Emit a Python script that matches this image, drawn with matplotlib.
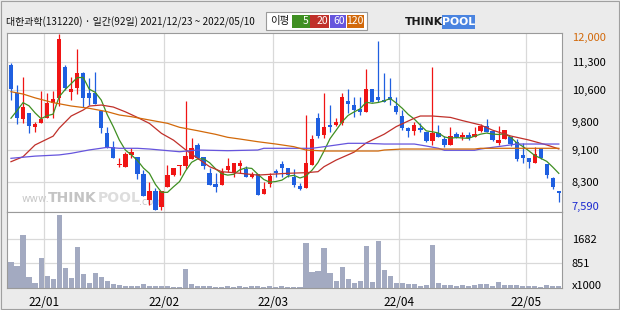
import matplotlib
matplotlib.use('Agg')
import matplotlib.pyplot as plt
import numpy as np
import pandas as pd
from matplotlib.patches import Rectangle

plt.rcParams['font.family'] = ['Noto Sans CJK KR', 'DejaVu Sans']

# ---------------- data ----------------
title_text = "대한과학(131220) · 일간(92일) 2021/12/23 ~ 2022/05/10"

opens = [11220, 10530, 9860, 10020, 9680, 9780, 9900, 10260, 10400, 11180,
         10550, 10650, 11020, 10530, 10530, 10070, 9510, 9180, 8710, 8670,
         8970, 8930, 8490, 7840, 8070, 7670, 8170, 8470, 8690, 8700,
         8870, 9220, 8930, 8520, 8240, 8220, 8590, 8520, 8690, 8610,
         8420, 8490, 7990, 8240, 8570, 8740, 8650, 8420, 8190, 8150,
         8720, 9890, 9470, 9720, 9720, 9760, 10320, 10220, 10120, 10050,
         10620, 10430, 10350, 10430, 10200, 9950, 9650, 9580, 9650, 9550,
         9330, 9510, 9370, 9220, 9490, 9410, 9470, 9410, 9580, 9690,
         9570, 9260, 9360, 9410, 9290, 8970, 8890, 8770, 9140, 8740,
         8380, 8070]
highs = [11270, 10720, 10930, 10020, 9800, 10570, 10510, 10570, 12000, 11230,
         10930, 11620, 11060, 10900, 11060, 10070, 9680, 9320, 8900, 9040,
         9150, 8930, 8590, 8300, 8130, 8070, 8720, 8650, 8720, 10320,
         9390, 9260, 8930, 8630, 8510, 8630, 8890, 8780, 8840, 8690,
         8550, 8490, 8300, 8510, 8610, 8820, 8650, 8610, 8260, 9970,
         9470, 10010, 10510, 10220, 9900, 10510, 10620, 10430, 10430, 11120,
         10620, 11820, 11020, 10890, 10430, 10100, 9680, 9800, 9760, 9550,
         11170, 9720, 9440, 9680, 9550, 9550, 9550, 9680, 9750, 9860,
         9570, 9690, 9590, 9430, 9360, 9260, 8890, 9160, 9140, 8740,
         8410, 8070]
lows = [10350, 9740, 9760, 9510, 9550, 9780, 9900, 9900, 10200, 10600,
        10350, 10490, 10180, 10220, 10250, 9510, 9140, 8900, 8670, 8660,
        8890, 8370, 7950, 7710, 7590, 7600, 8170, 8450, 8470, 8620,
        8870, 8860, 8620, 8220, 8050, 8220, 8550, 8420, 8510, 8420,
        8380, 7970, 7990, 8160, 8420, 8420, 8420, 8160, 8090, 8150,
        8720, 9390, 9390, 9550, 9700, 9720, 10010, 9920, 9970, 10050,
        10300, 10300, 10300, 10220, 10000, 9590, 9410, 9470, 9550, 9300,
        9220, 9430, 9180, 9220, 9390, 9340, 9340, 9410, 9550, 9550,
        9320, 9220, 9360, 9190, 8820, 8770, 8630, 8770, 8860, 8380,
        8110, 7800]
closes = [10610, 9900, 10170, 9700, 9740, 9880, 10270, 10370, 11870, 10650,
          10620, 11020, 10400, 10400, 10250, 9650, 9180, 8900, 8740, 8990,
          9040, 8490, 7950, 8070, 7600, 8070, 8470, 8650, 8720, 8940,
          9140, 8890, 8680, 8220, 8170, 8550, 8700, 8780, 8780, 8420,
          8480, 7970, 8120, 8440, 8510, 8650, 8470, 8220, 8110, 8760,
          9370, 9440, 9660, 9660, 9800, 10430, 10250, 10100, 10050, 10620,
          10300, 10350, 10300, 10350, 10050, 9640, 9580, 9720, 9590, 9330,
          9530, 9430, 9220, 9440, 9410, 9470, 9390, 9490, 9690, 9550,
          9340, 9340, 9590, 9240, 8860, 8890, 8800, 8990, 8890, 8470,
          8170, 8020]
volumes = [900, 760, 1808, 389, 186, 1031, 423, 321, 2484, 693,
           355, 1403, 490, 186, 524, 389, 231, 152, 118, 85,
           85, 85, 152, 85, 85, 85, 85, 51, 51, 659,
           152, 85, 85, 85, 51, 51, 85, 51, 85, 51,
           85, 85, 51, 85, 51, 85, 51, 51, 51, 1538,
           558, 592, 1369, 524, 254, 727, 321, 186, 254, 1437,
           220, 1606, 625, 423, 186, 186, 152, 152, 85, 118,
           1470, 186, 118, 118, 85, 118, 85, 118, 152, 152,
           85, 220, 118, 118, 118, 85, 85, 85, 51, 118,
           85, 85]
# closes of the four sessions before the window (estimated, for the 5-day average)
prior_closes = [8950, 9170, 10100, 10620]

ma20_days = [0, 2, 4, 7, 8, 10, 12, 13, 15, 17, 19, 21, 23, 25, 27, 29, 31, 33, 35, 37,
             41, 46, 49, 51, 52, 54, 57, 59, 62, 64, 67, 68, 70, 73, 75, 78, 80, 83, 86, 89, 91]
ma20_vals = [8800, 8925, 9220, 9440, 9640, 9945, 10095, 10195, 10220, 10170, 10050, 9910,
             9760, 9510, 9340, 9100, 8885, 8675, 8550, 8525, 8465, 8510, 8525, 8550, 8675,
             8840, 9040, 9270, 9490, 9680, 9890, 9945, 9945, 9910, 9830, 9720, 9590, 9445,
             9345, 9220, 9120]
ma60_days = [0, 4, 8, 10, 13, 16, 18, 21, 23, 28, 31, 36, 41, 42, 50, 52, 54, 56, 59, 62,
             67, 69, 71, 72, 77, 78, 80, 82, 84, 91]
ma60_vals = [8885, 8940, 8970, 9010, 9095, 9160, 9136, 9136, 9118, 9050, 9093, 9076, 9093,
             9136, 9136, 9176, 9218, 9261, 9261, 9243, 9243, 9193, 9136, 9086, 9086, 9118,
             9160, 9200, 9243, 9243]
ma120_days = [0, 2, 4, 7, 10, 13, 16, 18, 20, 23, 26, 28, 31, 34, 36, 38, 41, 44, 47, 49,
              52, 61, 62, 65, 77, 78, 91]
ma120_vals = [10554, 10496, 10400, 10280, 10196, 10138, 10053, 9970, 9928, 9845, 9762, 9662,
              9577, 9486, 9411, 9369, 9301, 9243, 9176, 9093, 9068, 9068, 9093, 9118, 9118,
              9136, 9136]

ma_names = ['5', '20', '60', '120']
ma_colors = ['#3f8f22', '#c0302a', '#6655dd', '#d2690a']

month_labels = ['22/01', '22/02', '22/03', '22/04', '22/05']
month_start_idx = [6, 26, 44, 65, 86]
price_ticks = [11300, 10600, 9800, 9100, 8300]
price_tick_labels = ['11,300', '10,600', '9,800', '9,100', '8,300']
vol_ticks = [1682, 851]
vol_tick_labels = ['1682', '851']
vol_unit = 'x1000'

UP = '#f01414'
DOWN = '#1f5fe0'
VOLC = '#a3aac1'
GRID = '#d9d9d9'
FRAME = '#9a9a9a'

# ---------------- figure ----------------
W, H = 620, 310
fig = plt.figure(figsize=(6.2, 3.1), dpi=100, facecolor='#ebebeb')


def fx(px):
    return px / W


def fy(py):
    return 1 - py / H


axp = fig.add_axes([fx(7), fy(212), fx(555), 179 / H])
axv = fig.add_axes([fx(7), fy(288), fx(555), 76 / H])

n = len(closes)
x = np.arange(n)
o = np.array(opens, float)
h = np.array(highs, float)
l = np.array(lows, float)
c = np.array(closes, float)
up = c >= o
cols = np.where(up, UP, DOWN)

pmax, pmin = max(highs), min(lows)
ppx = (pmax - pmin) / 176.0
axp.set_ylim(pmin - 2 * ppx, pmax + 1 * ppx)
xl = (-0.66, n - 0.47)
axp.set_xlim(*xl)
axv.set_xlim(*xl)

# grids
for ax in (axp, axv):
    ax.set_facecolor('white')
    for s in ax.spines.values():
        s.set_color(FRAME)
        s.set_linewidth(0.8)
    for m in month_start_idx:
        ax.axvline(m - 0.5, color=GRID, lw=0.9, zorder=0)
axp.set_yticks(price_ticks)
axp.set_yticklabels(price_tick_labels)
axp.grid(axis='y', color=GRID, lw=0.9, zorder=0)
axp.yaxis.tick_right()
axp.tick_params(axis='y', length=0, pad=7, labelsize=8)
axp.set_xticks([])

# watermark (behind the candles)
axp.text(0.027, 0.075, 'www.', transform=axp.transAxes, fontsize=7.5, color='#c8c8c8',
         va='center', ha='left', family=['DejaVu Sans'], zorder=1)
axp.text(0.074, 0.08, 'THINK', transform=axp.transAxes, fontsize=10, color='#c4c4c4',
         va='center', ha='left', fontweight='bold', family=['DejaVu Sans'], zorder=1)
axp.text(0.163, 0.08, 'POOL', transform=axp.transAxes, fontsize=10, color='#dddddd',
         va='center', ha='left', fontweight='bold', family=['DejaVu Sans'], zorder=1)
axp.text(0.238, 0.055, '.com', transform=axp.transAxes, fontsize=7, color='#c8c8c8',
         va='center', ha='left', family=['DejaVu Sans'], zorder=1)

# candles
axp.vlines(x, l, h, colors=cols, lw=0.9, zorder=2)
body_bot = np.minimum(o, c)
body_h = np.maximum(np.abs(c - o), ppx * 1.2)
axp.bar(x, body_h, 0.72, bottom=body_bot, color=cols, lw=0, zorder=3)

# moving averages
full = pd.Series(prior_closes + closes, dtype=float)
ma5 = full.rolling(5).mean().values[len(prior_closes):]
axp.plot(x, ma5, color=ma_colors[0], lw=0.9, zorder=4)
axp.plot(ma20_days, ma20_vals, color=ma_colors[1], lw=0.9, zorder=4)
axp.plot(ma60_days, ma60_vals, color=ma_colors[2], lw=0.9, zorder=4)
axp.plot(ma120_days, ma120_vals, color=ma_colors[3], lw=0.9, zorder=4)

# max / min labels
axp.annotate(f"{pmax:,}", xy=(1, pmax), xycoords=('axes fraction', 'data'),
             xytext=(7, -3), textcoords='offset points', va='center', ha='left',
             fontsize=8, color='#d2690a', annotation_clip=False)
axp.annotate(f"{pmin:,}", xy=(1, pmin), xycoords=('axes fraction', 'data'),
             xytext=(7, 2), textcoords='offset points', va='center', ha='left',
             fontsize=8, color='#1a28d0', annotation_clip=False)

# volume
axv.bar(x, volumes, 0.85, color=VOLC, lw=0, zorder=2)
vpx = 851 / 24.8
axv.set_ylim(0, 75.5 * vpx)
axv.set_yticks(vol_ticks)
axv.set_yticklabels(vol_tick_labels)
axv.grid(axis='y', color=GRID, lw=0.9, zorder=0)
axv.yaxis.tick_right()
axv.tick_params(axis='y', length=0, pad=7, labelsize=8)
axv.set_xticks([m - 0.5 for m in month_start_idx])
axv.set_xticklabels(month_labels)
axv.tick_params(axis='x', length=0, pad=6, labelsize=8.5)
axv.annotate(vol_unit, xy=(1, 0), xycoords='axes fraction', xytext=(7, 1.5),
             textcoords='offset points', va='center', ha='left', fontsize=8,
             annotation_clip=False)

# title
fig.text(fx(6), fy(22), title_text, fontsize=7.2, va='center', ha='left', color='#111111')

# MA legend box
fig.add_artist(Rectangle((fx(266), fy(29.5)), fx(101), 17.5 / H, transform=fig.transFigure,
                         fc='white', ec='#9a9a9a', lw=0.8))
fig.text(fx(270), fy(21), '이평', fontsize=7.5, va='center', ha='left', color='#111111')
box_edges = [(292, 309.5), (310, 329), (329.5, 346), (346.5, 364)]
for (a, b), name, col in zip(box_edges, ma_names, ma_colors):
    fig.add_artist(Rectangle((fx(a), fy(27.5)), fx(b - a), 12.5 / H, transform=fig.transFigure,
                             fc=col, ec='none'))
    fig.text(fx(b - 1), fy(21.3), name, fontsize=7.5, va='center', ha='right', color='white')

# logo
fig.text(fx(405), fy(22), 'THINK', fontsize=7.8, fontweight='bold', color='#1a1a1a',
         va='center', ha='left', family=['DejaVu Sans'])
fig.add_artist(Rectangle((fx(442), fy(28.5)), fx(33), 13.5 / H, transform=fig.transFigure,
                         fc='#4a84e0', ec='none'))
fig.text(fx(458.5), fy(22), 'POOL', fontsize=7.8, fontweight='bold', color='white',
         va='center', ha='center', family=['DejaVu Sans'])

# outer border
fig.add_artist(Rectangle((fx(1), fy(308.5)), fx(617.5), 307.5 / H, transform=fig.transFigure,
                         fc='none', ec='#a0a0a0', lw=0.8))

fig.savefig('out.png', dpi=100, facecolor=fig.get_facecolor())
